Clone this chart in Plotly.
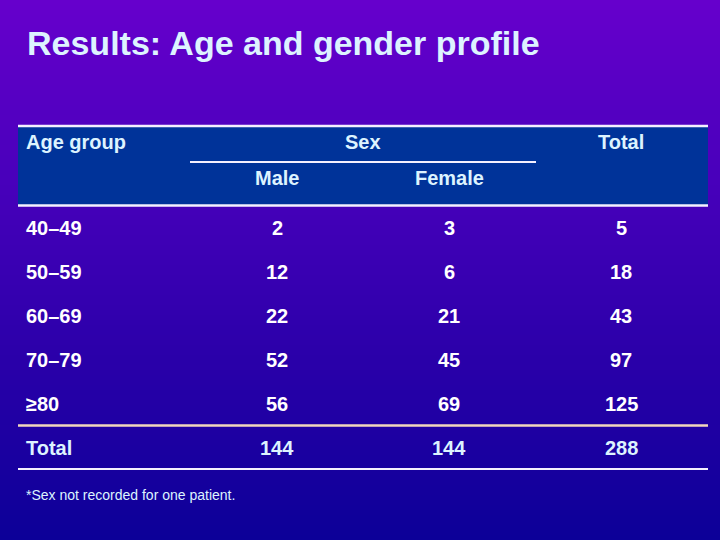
import plotly.graph_objects as go

# ---- data ----
age_groups = ["40\u201349", "50\u201359", "60\u201369", "70\u201379", "\u226580", "Total"]
male = [2, 12, 22, 52, 56, 144]
female = [3, 6, 21, 45, 69, 144]
total = [5, 18, 43, 97, 125, 288]
title_text = "Results: Age and gender profile"
footnote = "*Sex not recorded for one patient."

W, H = 720, 540
FONT = "Liberation Sans, Arial, sans-serif"
LIGHT = "#DDF3FF"
WHITE = "#FFFFFF"

fig = go.Figure()
shapes = []

# gradient background (purple -> blue)
top = (102, 0, 204)
bot = (12, 0, 152)
n = 108
for i in range(n):
    t = i / (n - 1)
    c = tuple(int(round(top[k] + (bot[k] - top[k]) * t)) for k in range(3))
    shapes.append(dict(type="rect", xref="x", yref="y", x0=0, x1=W,
                       y0=i * H / n, y1=(i + 1) * H / n + 0.6,
                       fillcolor="rgb(%d,%d,%d)" % c, line=dict(width=0), layer="below"))

# header band
shapes.append(dict(type="rect", xref="x", yref="y", x0=18, x1=708, y0=126, y1=205,
                   fillcolor="#003399", line=dict(width=0), layer="below"))
# lines
def hline(y, x0, x1, color, w):
    shapes.append(dict(type="line", xref="x", yref="y", x0=x0, x1=x1, y0=y, y1=y,
                       line=dict(color=color, width=w)))
hline(126, 18, 708, "#F4F0FF", 2.5)
hline(162, 190, 536, "#F4F0FF", 2)
hline(205.5, 18, 708, "#F4F0FF", 2.5)
hline(425.5, 18, 708, "#F2D8BC", 2.5)
hline(469, 18, 708, "#F4F0FF", 2)

ann = []
def txt(x, y, s, size, color, anchor="center", bold=True):
    ann.append(dict(x=x, y=y, xref="x", yref="y", text=("<b>%s</b>" % s) if bold else s,
                    showarrow=False, xanchor=anchor, yanchor="middle",
                    font=dict(family=FONT, size=size, color=color)))

txt(25, 43, title_text, 34, LIGHT, "left")
txt(24, 142, "Age group", 20, LIGHT, "left")
txt(363, 142, "Sex", 20, LIGHT)
txt(621, 142, "Total", 20, LIGHT)
txt(277, 178, "Male", 20, LIGHT)
txt(449, 178, "Female", 20, LIGHT)

row_y = [228, 272, 316, 360, 404, 448]
for i, lab in enumerate(age_groups):
    col = LIGHT if lab == "Total" else WHITE
    txt(24, row_y[i], lab, 20, col, "left")
    txt(277, row_y[i], str(male[i]), 20, col)
    txt(449, row_y[i], str(female[i]), 20, col)
    txt(621, row_y[i], str(total[i]), 20, col)

txt(24, 495, footnote, 14, LIGHT, "left", bold=False)

fig.update_layout(
    width=W, height=H, margin=dict(l=0, r=0, t=0, b=0),
    paper_bgcolor="#3300B0", plot_bgcolor="rgba(0,0,0,0)",
    xaxis=dict(range=[0, W], visible=False, fixedrange=True),
    yaxis=dict(range=[H, 0], visible=False, fixedrange=True),
    shapes=shapes, annotations=ann, showlegend=False,
)
fig.write_html("out.html", config={"displayModeBar": False},
               post_script="document.body.style.margin='0';document.body.style.overflow='hidden';")
